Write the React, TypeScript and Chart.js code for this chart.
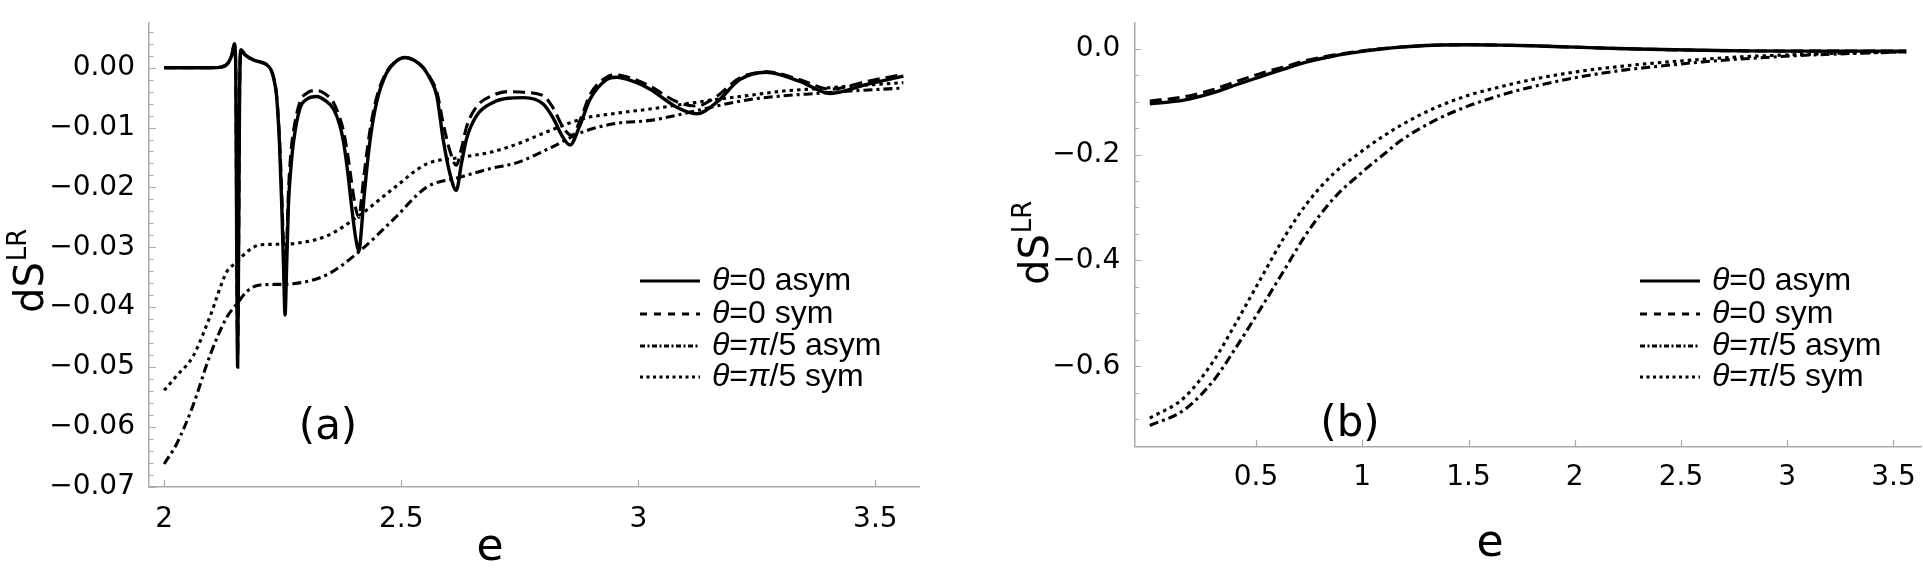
import React, { useEffect, useRef } from "react";
import { Chart, registerables } from "chart.js";

Chart.register(...registerables);

// ---------- shared ----------
const SERIES_LABELS = ["θ=0 asym", "θ=0 sym", "θ=π/5 asym", "θ=π/5 sym"];

// ---------- panel (a) data ----------
const A_E_T0_ASYM = [
  2.0, 2.1, 2.12, 2.135, 2.143, 2.148, 2.151, 2.153, 2.155, 2.157, 2.159, 2.162, 2.17, 2.188, 2.205,
  2.216, 2.225, 2.231, 2.237, 2.243, 2.248, 2.252, 2.255, 2.258, 2.262, 2.267, 2.273, 2.286, 2.3, 2.322,
  2.34, 2.357, 2.37, 2.378, 2.388, 2.395, 2.404, 2.411, 2.416, 2.42, 2.434, 2.448, 2.469, 2.488, 2.508,
  2.528, 2.547, 2.562, 2.575, 2.589, 2.603, 2.616, 2.627, 2.638, 2.659, 2.694, 2.725, 2.758, 2.8, 2.821,
  2.84, 2.856, 2.877, 2.898, 2.933, 2.954, 2.99, 3.025, 3.081, 3.123, 3.165, 3.214, 3.27, 3.341, 3.404,
  3.482, 3.559,
];
const A_V_T0_ASYM = [
  0, 0, 0.0001, 0.0008, 0.0022, 0.004, 0.0, -0.03, -0.05, -0.03, -0.005, 0.003, 0.0022, 0.0013, 0.0009,
  0.0005, -0.0003, -0.0018, -0.0047, -0.0123, -0.023, -0.034, -0.0413, -0.034, -0.023, -0.017, -0.0123, -0.0069, -0.0053, -0.0048,
  -0.0055, -0.0069, -0.0095, -0.0123, -0.018, -0.023, -0.0285, -0.0306, -0.027, -0.023, -0.0123, -0.0058, -0.0009, 0.001, 0.0017,
  0.0012, -0.0001, -0.002, -0.0047, -0.0123, -0.0178, -0.0205, -0.016, -0.0118, -0.008, -0.0058, -0.0051, -0.005, -0.0061, -0.0085,
  -0.0115, -0.0129, -0.0096, -0.0053, -0.002, -0.0016, -0.0023, -0.0036, -0.0066, -0.0077, -0.0058, -0.002, -0.00075, -0.0023, -0.0043,
  -0.0028, -0.0014,
];

const A_E_T0_SYM = [
  2.0, 2.1, 2.12, 2.135, 2.143, 2.148, 2.151, 2.153, 2.155, 2.157, 2.159, 2.162, 2.17, 2.188, 2.205,
  2.216, 2.225, 2.231, 2.237, 2.243, 2.248, 2.252, 2.255, 2.258, 2.262, 2.267, 2.273, 2.286, 2.3, 2.322,
  2.34, 2.357, 2.37, 2.378, 2.388, 2.395, 2.404, 2.411, 2.416, 2.42, 2.434, 2.448, 2.469, 2.488, 2.508,
  2.528, 2.547, 2.562, 2.575, 2.589, 2.603, 2.616, 2.627, 2.638, 2.659, 2.694, 2.725, 2.758, 2.8, 2.821,
  2.84, 2.86, 2.88, 2.898, 2.933, 2.954, 2.99, 3.025, 3.081, 3.123, 3.165, 3.214, 3.27, 3.341, 3.404,
  3.482, 3.559,
];
const A_V_T0_SYM = [
  0, 0, 0.0001, 0.0008, 0.0022, 0.0038, 0.0, -0.03, -0.048, -0.03, -0.005, 0.003, 0.0022, 0.0013, 0.0009,
  0.0005, -0.0003, -0.0017, -0.0045, -0.0115, -0.021, -0.031, -0.037, -0.031, -0.021, -0.0145, -0.0105, -0.0058, -0.0043, -0.0038,
  -0.0044, -0.0058, -0.0083, -0.0105, -0.015, -0.019, -0.0235, -0.025, -0.022, -0.019, -0.0105, -0.005, -0.0007, 0.001, 0.0017,
  0.0012, 0.0, -0.0018, -0.004, -0.0095, -0.014, -0.0163, -0.0135, -0.0098, -0.0065, -0.0046, -0.004, -0.0041, -0.0047, -0.0068,
  -0.0098, -0.0113, -0.0082, -0.0045, -0.0016, -0.0012, -0.0019, -0.0031, -0.0057, -0.0064, -0.0048, -0.0017, -0.0007, -0.002, -0.0036,
  -0.0023, -0.0011,
];

const A_E_PI5 = [
  2.0, 2.026, 2.061, 2.096, 2.132, 2.153, 2.174, 2.202, 2.24, 2.272, 2.343, 2.413, 2.483, 2.553, 2.624,
  2.69, 2.743, 2.814, 2.884, 2.954, 3.025, 3.095, 3.165, 3.236, 3.306, 3.376, 3.447, 3.559,
];
const A_V_PI5_ASYM = [
  -0.0662, -0.0629, -0.0564, -0.0482, -0.0417, -0.0395, -0.0374, -0.0363, -0.0362, -0.0361, -0.0346, -0.0306, -0.0254, -0.02, -0.0183,
  -0.0168, -0.0159, -0.0134, -0.0107, -0.0093, -0.0088, -0.0077, -0.0064, -0.0053, -0.0047, -0.0043, -0.0039, -0.0034,
];
const A_V_PI5_SYM = [
  -0.0539, -0.0515, -0.0482, -0.0417, -0.0341, -0.0325, -0.0308, -0.0296, -0.0295, -0.0294, -0.0281, -0.0246, -0.0202, -0.0161, -0.015,
  -0.0141, -0.0128, -0.0105, -0.0085, -0.0076, -0.0069, -0.0061, -0.0053, -0.0046, -0.0039, -0.0035, -0.0031, -0.0025,
];

// ---------- panel (b) data ----------
const B_E = [
  0.0, 0.16, 0.3, 0.4, 0.52, 0.63, 0.74, 0.865, 1.0, 1.1, 1.18, 1.335, 1.5, 1.65, 1.8,
  2.0, 2.2, 2.35, 2.6, 2.8, 3.05, 3.3, 3.56,
];
const B_V_T0_ASYM = [
  -0.104, -0.097, -0.083, -0.069, -0.053, -0.0385, -0.025, -0.0137, -0.005, 0.0, 0.003, 0.0066, 0.0075, 0.0068, 0.0055,
  0.003, 0.0005, -0.001, -0.003, -0.004, -0.0045, -0.0045, -0.0045,
];
const B_V_T0_SYM = [
  -0.099, -0.091, -0.077, -0.063, -0.047, -0.0346, -0.022, -0.0121, -0.004, 0.0005, 0.0032, 0.0066, 0.0075, 0.0068, 0.0055,
  0.003, 0.0005, -0.001, -0.003, -0.004, -0.0045, -0.0045, -0.0045,
];
const B_V_PI5_ASYM = [
  -0.712, -0.683, -0.627, -0.568, -0.492, -0.42, -0.348, -0.283, -0.233, -0.2, -0.174, -0.137, -0.108, -0.088, -0.072,
  -0.055, -0.042, -0.035, -0.025, -0.019, -0.013, -0.009, -0.006,
];
const B_V_PI5_SYM = [
  -0.698, -0.66, -0.59, -0.522, -0.436, -0.358, -0.292, -0.236, -0.193, -0.165, -0.145, -0.113, -0.088, -0.072, -0.058,
  -0.044, -0.034, -0.028, -0.02, -0.015, -0.011, -0.008, -0.006,
];

// ---------- tick labels ----------
const A_X_TICKS = [2, 2.5, 3, 3.5];
const A_Y_TICKS = [0, -0.01, -0.02, -0.03, -0.04, -0.05, -0.06, -0.07];
const B_X_TICKS = [0.5, 1, 1.5, 2, 2.5, 3, 3.5];
const B_Y_TICKS = [0, -0.2, -0.4, -0.6];

// ---------- styles ----------
const AXIS_COLOR = "#ababab";
const LINE_DASH = [[], [12, 6], [9, 4, 3, 4], [3.5, 4]];
const LEGEND_DASH = [[], [7, 7], [5, 2.5, 2, 2.5], [3, 3.5]];
const TICK_FONT = "DejaVu Sans";
const LEGEND_FONT = "Liberation Sans";

const W = 1923;
const H = 569;

type PanelCfg = {
  left: number;
  width: number;
  areaLeft: number;
  areaRight: number;
  areaTop: number;
  areaBottom: number;
  xMin: number;
  xMax: number;
  yMin: number;
  yMax: number;
  xTicks: number[];
  yTicks: number[];
  yMinorStep: number;
  yDecimals: number;
  xPad: number;
  yPad: number;
  titleX: number;
  titleBottom: number;
  eX: number;
  eBase: number;
  tagText: string;
  tagX: number;
  tagY: number;
  legX: number;
  legRows: number[];
  series: { e: number[]; v: number[] }[];
};

const PANEL_A: PanelCfg = {
  left: 0,
  width: 960,
  areaLeft: 149,
  areaRight: 919,
  areaTop: 12,
  areaBottom: 486.7,
  xMin: 1.968,
  xMax: 3.592,
  yMin: -0.07,
  yMax: 0.0075,
  xTicks: A_X_TICKS,
  yTicks: A_Y_TICKS,
  yMinorStep: 0.002,
  yDecimals: 2,
  xPad: 8,
  yPad: 6,
  titleX: 43,
  titleBottom: 313,
  eX: 490,
  eBase: 560,
  tagText: "(a)",
  tagX: 328,
  tagY: 428,
  legX: 640,
  legRows: [280, 313, 345, 376],
  series: [
    { e: A_E_T0_ASYM, v: A_V_T0_ASYM },
    { e: A_E_T0_SYM, v: A_V_T0_SYM },
    { e: A_E_PI5, v: A_V_PI5_ASYM },
    { e: A_E_PI5, v: A_V_PI5_SYM },
  ],
};

const PANEL_B: PanelCfg = {
  left: 960,
  width: 963,
  areaLeft: 1134.3,
  areaRight: 1921.7,
  areaTop: 0,
  areaBottom: 446.7,
  xMin: -0.073,
  xMax: 3.633,
  yMin: -0.752,
  yMax: 0.049,
  xTicks: B_X_TICKS,
  yTicks: B_Y_TICKS,
  yMinorStep: 0.05,
  yDecimals: 1,
  xPad: 6,
  yPad: 6,
  titleX: 1048,
  titleBottom: 285,
  eX: 1490,
  eBase: 556,
  tagText: "(b)",
  tagX: 1350,
  tagY: 425,
  legX: 1640,
  legRows: [280, 313, 345, 376],
  series: [
    { e: B_E, v: B_V_T0_ASYM },
    { e: B_E, v: B_V_T0_SYM },
    { e: B_E, v: B_V_PI5_ASYM },
    { e: B_E, v: B_V_PI5_SYM },
  ],
};

function fmt(v: number, d: number): string {
  const s = Math.abs(v).toFixed(d);
  return (v < -1e-9 ? "\u2212" : "") + s;
}

function drawRich(ctx: CanvasRenderingContext2D, text: string, x: number, y: number, size: number) {
  let cx = x;
  for (const ch of Array.from(text)) {
    const italic = ch === "θ" || ch === "π";
    ctx.font = `${italic ? "italic " : ""}${size}px "${LEGEND_FONT}"`;
    ctx.fillText(ch, cx, y);
    cx += ctx.measureText(ch).width;
  }
}

function makePlugin(cfg: PanelCfg) {
  return {
    id: "decor",
    afterDraw(chart: any) {
      const ctx: CanvasRenderingContext2D = chart.ctx;
      const xs = chart.scales.x;
      const ys = chart.scales.y;
      const ca = chart.chartArea;
      const off = cfg.left;
      ctx.save();
      // inward ticks
      ctx.strokeStyle = AXIS_COLOR;
      ctx.lineWidth = 1.2;
      ctx.beginPath();
      for (const v of cfg.xTicks) {
        const px = Math.round(xs.getPixelForValue(v)) + 0.5;
        ctx.moveTo(px, ca.bottom);
        ctx.lineTo(px, ca.bottom - 7);
      }
      const nMinor = Math.round((cfg.yMax - cfg.yMin) / cfg.yMinorStep) + 2;
      for (let i = -nMinor; i <= nMinor; i++) {
        const v = i * cfg.yMinorStep;
        if (v < cfg.yMin - 1e-9 || v > cfg.yMax + 1e-9) continue;
        const py = Math.round(ys.getPixelForValue(v)) + 0.5;
        const major = cfg.yTicks.some((t) => Math.abs(t - v) < 1e-9);
        ctx.moveTo(ca.left, py);
        ctx.lineTo(ca.left + (major ? 7 : 4.5), py);
      }
      ctx.stroke();

      ctx.fillStyle = "#000";
      // y title dS^LR
      ctx.save();
      ctx.translate(cfg.titleX - off, cfg.titleBottom);
      ctx.rotate(-Math.PI / 2);
      ctx.textAlign = "left";
      ctx.textBaseline = "alphabetic";
      ctx.font = `40px "${TICK_FONT}"`;
      ctx.fillText("dS", 0, 0);
      const w = ctx.measureText("dS").width;
      ctx.font = `26px "${TICK_FONT}"`;
      ctx.fillText("LR", w + 1, -17);
      ctx.restore();

      // x title
      ctx.font = `44px "${TICK_FONT}"`;
      ctx.textAlign = "center";
      ctx.textBaseline = "alphabetic";
      ctx.fillText("e", cfg.eX - off, cfg.eBase);

      // panel tag
      ctx.font = `42px "${TICK_FONT}"`;
      ctx.textBaseline = "middle";
      ctx.fillText(cfg.tagText, cfg.tagX - off, cfg.tagY);

      // legend
      ctx.textAlign = "left";
      ctx.textBaseline = "middle";
      SERIES_LABELS.forEach((label, i) => {
        const y = cfg.legRows[i];
        ctx.save();
        ctx.strokeStyle = "#000";
        ctx.lineWidth = 2.8;
        ctx.setLineDash(LEGEND_DASH[i]);
        ctx.beginPath();
        ctx.moveTo(cfg.legX - off, y + 1);
        ctx.lineTo(cfg.legX - off + 60, y + 1);
        ctx.stroke();
        ctx.restore();
        drawRich(ctx, label, cfg.legX - off + 72, y + 1, 32);
      });
      ctx.restore();
    },
  };
}

function Panel({ cfg }: { cfg: PanelCfg }) {
  const ref = useRef<HTMLCanvasElement | null>(null);
  useEffect(() => {
    if (!ref.current) return;
    const localLeft = cfg.areaLeft - cfg.left;
    const padRight = cfg.left + cfg.width - cfg.areaRight;
    const chart = new Chart(ref.current, {
      type: "line",
      data: {
        datasets: cfg.series.map((s, i) => ({
          label: SERIES_LABELS[i],
          data: s.e.map((e, j) => ({ x: e, y: s.v[j] })),
          borderColor: "#000",
          borderWidth: i === 0 ? 3.4 : 3.1,
          borderDash: LINE_DASH[i],
          borderCapStyle: "butt",
          pointRadius: 0,
          fill: false,
          cubicInterpolationMode: "monotone",
        })),
      },
      options: {
        responsive: false,
        animation: false,
        events: [],
        layout: { padding: { left: 0, right: padRight, top: cfg.areaTop, bottom: 0 } },
        plugins: { legend: { display: false }, tooltip: { enabled: false }, title: { display: false } },
        scales: {
          x: {
            type: "linear",
            min: cfg.xMin,
            max: cfg.xMax,
            grid: { display: false },
            border: { display: true, color: AXIS_COLOR, width: 1.5 },
            afterBuildTicks: (scale: any) => {
              scale.ticks = cfg.xTicks.map((v) => ({ value: v }));
            },
            afterFit: (scale: any) => {
              scale.height = H - cfg.areaBottom;
            },
            ticks: {
              autoSkip: false,
              maxRotation: 0,
              minRotation: 0,
              padding: cfg.xPad,
              color: "#000",
              font: { family: TICK_FONT, size: 28 },
              callback: (v: any) => String(Number(v)),
            },
          },
          y: {
            type: "linear",
            min: cfg.yMin,
            max: cfg.yMax,
            grid: { display: false },
            border: { display: true, color: AXIS_COLOR, width: 1.5 },
            afterBuildTicks: (scale: any) => {
              scale.ticks = cfg.yTicks.map((v) => ({ value: v }));
            },
            afterFit: (scale: any) => {
              scale.width = localLeft;
            },
            ticks: {
              autoSkip: false,
              padding: cfg.yPad,
              color: "#000",
              font: { family: TICK_FONT, size: 28 },
              callback: (v: any) => fmt(Number(v), cfg.yDecimals),
            },
          },
        },
      },
      plugins: [makePlugin(cfg) as any],
    } as any);
    return () => chart.destroy();
  }, [cfg]);
  return (
    <canvas
      ref={ref}
      width={cfg.width}
      height={H}
      style={{ position: "absolute", left: cfg.left, top: 0, width: cfg.width, height: H }}
    />
  );
}

export default function App() {
  return (
    <div style={{ position: "fixed", left: 0, top: 0, width: W, height: H, background: "#fff", overflow: "hidden" }}>
      <Panel cfg={PANEL_A} />
      <Panel cfg={PANEL_B} />
    </div>
  );
}
